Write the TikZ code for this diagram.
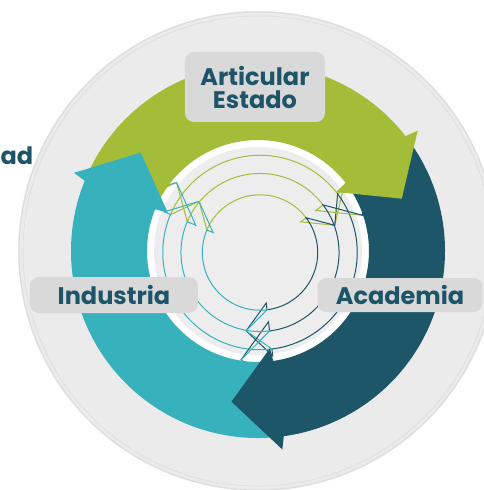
\documentclass[tikz,border=0pt]{standalone}
\usepackage{fontspec}
\setmainfont{Poppins}
\usetikzlibrary{positioning}
\definecolor{greenArrow}{HTML}{A3BD38}
\definecolor{darkArrow}{HTML}{1C5668}
\definecolor{tealArrow}{HTML}{37B2BD}
\definecolor{labelText}{HTML}{1D5468}
\definecolor{labelFill}{HTML}{D9D9D9}
\definecolor{discFill}{HTML}{EBEBEB}
\definecolor{discLine}{HTML}{DCDCDC}

\tikzset{
  labelbox/.style={fill=labelFill, rounded corners=9pt, text=labelText, align=center,
    font=\bfseries\fontsize{24}{23}\selectfont, inner sep=0pt},
  thinarrow/.style={line width=1pt, line join=miter},
}

% outline of one ring arrow: #1 scale, #2 start angle, #3 barb angle
\newcommand{\ringarrow}[3]{%
  (#2:187*#1) arc[start angle=#2, end angle=#3, radius=187*#1]
  -- (#3:200*#1) -- (#3-17:153*#1) -- (#3:98*#1) -- (#3:111*#1)
  arc[start angle=#3, end angle=#2, radius=111*#1] -- (#2-17:153*#1) -- cycle}

\begin{document}
\begin{tikzpicture}[x=1pt, y=1pt]
\useasboundingbox (-258,-239) rectangle (226,251);

% background disc
\fill[discFill] (0,0) circle[radius=240];
\draw[discLine, line width=1pt] (0,0) circle[radius=239];
\draw[discLine, line width=0.6pt] (0,0) circle[radius=235];
\fill[white] (0,0) circle[radius=111];
\fill[discFill!90!white] (0,0) circle[radius=104];

% thin arrows inside the white disc
\begin{scope}[shift={(2,-1.5)}]
\clip (0,0) circle[radius=118];
\foreach \s in {0.52,0.712}{
  \foreach \a/\b/\col in {157/37/greenArrow, 37/-83/darkArrow, -83/-203/tealArrow}{
    \draw[thinarrow, \col] \ringarrow{\s}{\a}{\b};
  }
}
\end{scope}

% big arrow bodies, each running a little under the next head
\fill[greenArrow] (157:187) arc[start angle=157, end angle=34, radius=187]
  -- (34:111) arc[start angle=34, end angle=157, radius=111] -- cycle;
\fill[darkArrow] (37:187) arc[start angle=37, end angle=-86, radius=187]
  -- (-86:111) arc[start angle=-86, end angle=37, radius=111] -- cycle;
\fill[tealArrow] (-83:187) arc[start angle=-83, end angle=-206, radius=187]
  -- (-206:111) arc[start angle=-206, end angle=-83, radius=111] -- cycle;

% big arrow heads
\foreach \b/\col in {37/greenArrow, -83/darkArrow, 157/tealArrow}{
  \fill[\col] (\b+1:186) -- (\b:200) -- (\b-17:153) -- (\b:98) -- (\b+1:112) -- cycle;
}

% labels
\node[labelbox, minimum width=140pt, minimum height=70pt] (estado) at (-3,164) {Articular\\Estado};
\node[labelbox, minimum width=168pt, minimum height=36pt] (industria) at (-144,-44) {Industria};
\node[labelbox, minimum width=165pt, minimum height=34pt] (academia) at (142,-44) {Academia};
\node[text=labelText, font=\bfseries\fontsize{24}{23}\selectfont, inner sep=0pt, anchor=base west] (sociedad) at (-257.5,86) {ad};
\end{tikzpicture}
\end{document}
